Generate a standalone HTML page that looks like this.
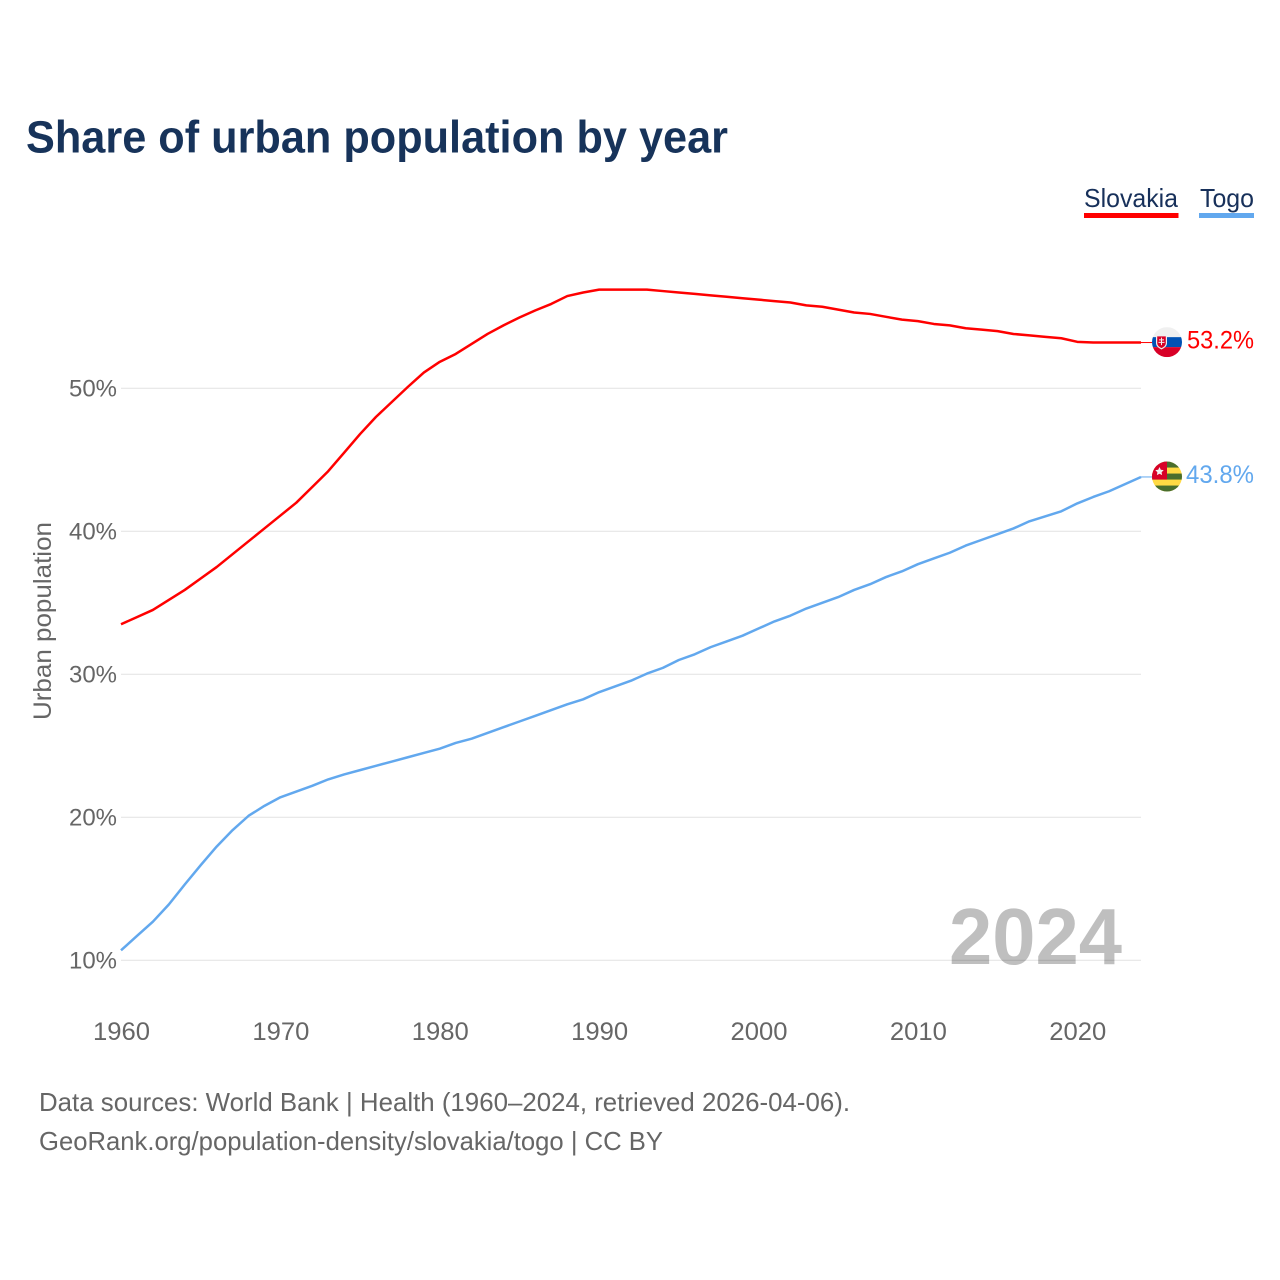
<!DOCTYPE html>
<html lang="en">
<head>
<meta charset="utf-8">
<title>Share of urban population by year</title>
<style>
html,body{margin:0;padding:0;background:#fff;}
svg{display:block;font-family:"Liberation Sans",sans-serif;}
</style>
</head>
<body>
<svg id="chart" width="1280" height="1280" viewBox="0 0 1280 1280" xmlns="http://www.w3.org/2000/svg">
  <defs>
    <clipPath id="clip-sk"><circle cx="0" cy="0" r="15"/></clipPath>
    <clipPath id="clip-tg"><circle cx="0" cy="0" r="15"/></clipPath>
  </defs>
  <rect width="1280" height="1280" fill="#fff"/>
  <text x="26" y="152.500" font-size="45" font-weight="700" fill="#17335a" textLength="702" lengthAdjust="spacingAndGlyphs">Share of urban population by year</text>

  <g>
    <text x="1084" y="207" font-size="26" fill="#17305a" textLength="94" lengthAdjust="spacingAndGlyphs">Slovakia</text>
    <rect x="1084" y="213" width="94.5" height="5" fill="#ff0000"/>
  </g>
  <g>
    <text x="1200" y="207" font-size="26" fill="#17305a" textLength="54" lengthAdjust="spacingAndGlyphs">Togo</text>
    <rect x="1199" y="213" width="55" height="5" fill="#62a8ee"/>
  </g>

  <g id="grid"></g>
  <g id="y-axis"></g>
  <g id="x-axis"></g>
  <text transform="translate(51,720) rotate(-90)" font-size="25" fill="#666" textLength="198" lengthAdjust="spacingAndGlyphs">Urban population</text>

  <text id="year-label" x="949" y="964" font-size="80" font-weight="700" fill="#000" fill-opacity="0.25" textLength="173" lengthAdjust="spacingAndGlyphs">2024</text>

  <g id="series"></g>

  <text x="39" y="1111" font-size="26" fill="#666" textLength="811" lengthAdjust="spacingAndGlyphs">Data sources: World Bank | Health (1960–2024, retrieved 2026-04-06).</text>
  <text x="39" y="1150" font-size="26" fill="#666" textLength="624" lengthAdjust="spacingAndGlyphs">GeoRank.org/population-density/slovakia/togo | CC BY</text>
</svg>
<script>
const years = [1960,1961,1962,1963,1964,1965,1966,1967,1968,1969,1970,1971,1972,1973,1974,1975,1976,1977,1978,1979,1980,1981,1982,1983,1984,1985,1986,1987,1988,1989,1990,1991,1992,1993,1994,1995,1996,1997,1998,1999,2000,2001,2002,2003,2004,2005,2006,2007,2008,2009,2010,2011,2012,2013,2014,2015,2016,2017,2018,2019,2020,2021,2022,2023,2024];
const slovakiaValues = [33.5,34.0,34.5,35.2,35.9,36.7,37.5,38.4,39.3,40.2,41.1,42.0,43.1,44.2,45.5,46.8,48.0,49.05,50.1,51.1,51.85,52.4,53.1,53.8,54.4,54.95,55.45,55.9,56.45,56.7,56.9,56.9,56.9,56.9,56.8,56.7,56.6,56.5,56.4,56.3,56.2,56.1,56.0,55.8,55.7,55.5,55.3,55.2,55.0,54.8,54.7,54.5,54.4,54.2,54.1,54.0,53.8,53.7,53.6,53.5,53.25,53.2,53.2,53.2,53.2];
const togoValues = [10.7,11.7,12.7,13.9,15.3,16.65,17.95,19.1,20.1,20.8,21.4,21.8,22.2,22.65,23.0,23.3,23.6,23.9,24.2,24.5,24.8,25.2,25.5,25.9,26.3,26.7,27.1,27.5,27.9,28.25,28.75,29.15,29.55,30.05,30.45,31.0,31.4,31.9,32.3,32.7,33.2,33.7,34.1,34.6,35.0,35.4,35.9,36.3,36.8,37.2,37.7,38.1,38.5,39.0,39.4,39.8,40.2,40.7,41.05,41.4,41.95,42.4,42.8,43.3,43.8];
const yTicks = [10,20,30,40,50];
const xTicks = [1960,1970,1980,1990,2000,2010,2020];

const NS = 'http://www.w3.org/2000/svg';
const X0 = 121, X1 = 1141, Y10 = 960.3, Y50 = 388.3;
function xScale(year){ return X0 + (year - years[0]) * (X1 - X0) / (years[years.length-1] - years[0]); }
function yScale(v){ return Y10 + (v - 10) * (Y50 - Y10) / 40; }
function make(tag, attrs, parent, text){
  const el = document.createElementNS(NS, tag);
  for (const k in attrs) el.setAttribute(k, attrs[k]);
  if (text !== undefined) el.textContent = text;
  parent.appendChild(el);
  return el;
}

const grid = document.getElementById('grid');
const yAxis = document.getElementById('y-axis');
const xAxis = document.getElementById('x-axis');
const seriesLayer = document.getElementById('series');

yTicks.forEach(function(t){
  const line = make('line', {x1:X0, x2:X1, y1:yScale(t), y2:yScale(t), stroke:'#e6e6e6', 'stroke-width':1.2}, grid);
  
  
  const label = make('text', {x:117, y:yScale(t)+8, 'text-anchor':'end', 'font-size':24.5, fill:'#666', textLength:48, lengthAdjust:'spacingAndGlyphs'}, yAxis, t + '%');
  
  
});

xTicks.forEach(function(t){
  const label = make('text', {x:xScale(t)+0.5, y:1040, 'text-anchor':'middle', 'font-size':25, fill:'#666', textLength:57, lengthAdjust:'spacingAndGlyphs'}, xAxis, String(t));
  
  
});

function drawSeries(key, values, color, labelX, labelW, drawFlag){
  const g = make('g', {}, seriesLayer);
  
  
  const pts = values.map(function(v,i){ return xScale(years[i]).toFixed(2) + ',' + yScale(v).toFixed(2); }).join(' ');
  const line = make('polyline', {points:pts, fill:'none', stroke:color, 'stroke-width':2.5, 'stroke-linejoin':'round'}, g);
  
  
  const last = values[values.length-1];
  const endY = yScale(last);
  const lead = make('line', {x1:X1, x2:1152, y1:endY, y2:endY, stroke:color, 'stroke-width':1}, g);
  
  
  const flag = make('g', {transform:'translate(1167,' + (endY - 0.4) + ')'}, g);
  
  
  drawFlag(flag);
  const val = make('text', {x:labelX, y:endY + 6, 'font-size':25, fill:color, textLength:labelW, lengthAdjust:'spacingAndGlyphs'}, g, last.toFixed(1) + '%');
  
  
}

function flagSlovakia(f){
  const c = make('g', {'clip-path':'url(#clip-sk)'}, f);
  make('rect', {x:-15, y:-15, width:30, height:10, fill:'#f0f0f0'}, c);
  make('rect', {x:-15, y:-5, width:30, height:10, fill:'#0052b4'}, c);
  make('rect', {x:-15, y:5, width:30, height:10, fill:'#d80027'}, c);
  make('path', {d:'M-11-7H0V1Q0 5-5.500 7.300Q-11 5-11 1Z', fill:'#f0f0f0'}, c);
  make('path', {d:'M-9.800-5.800H-1.200V1Q-1.200 4-5.500 6Q-9.800 4-9.800 1Z', fill:'#d80027'}, c);
  make('path', {d:'M-6-4.500h1v1.700h2v1h-2v1.500h2.500v1h-2.500v2.300h-1v-2.300h-2.500v-1h2.500v-1.500h-2v-1h2z', fill:'#f0f0f0'}, c);
}
function flagTogo(f){
  const c = make('g', {'clip-path':'url(#clip-tg)'}, f);
  make('rect', {x:-15, y:-15, width:30, height:30, fill:'#ffda44'}, c);
  make('rect', {x:-15, y:-15, width:30, height:6, fill:'#496e2d'}, c);
  make('rect', {x:-15, y:-3, width:30, height:6, fill:'#496e2d'}, c);
  make('rect', {x:-15, y:9, width:30, height:6, fill:'#496e2d'}, c);
  make('rect', {x:-15, y:-15, width:15, height:18, fill:'#d80027'}, c);
  make('polygon', {points:'-7.500,-9.500 -6.200,-6.800 -3.300,-6.400 -5.400,-4.300 -4.900,-1.400 -7.500,-2.800 -10.100,-1.400 -9.600,-4.300 -11.700,-6.400 -8.800,-6.800', fill:'#f0f0f0'}, c);
}

drawSeries('slovakia', slovakiaValues, '#ff0000', 1187, 67, flagSlovakia);
drawSeries('togo', togoValues, '#62a8ee', 1186, 68, flagTogo);
</script>
</body>
</html>
